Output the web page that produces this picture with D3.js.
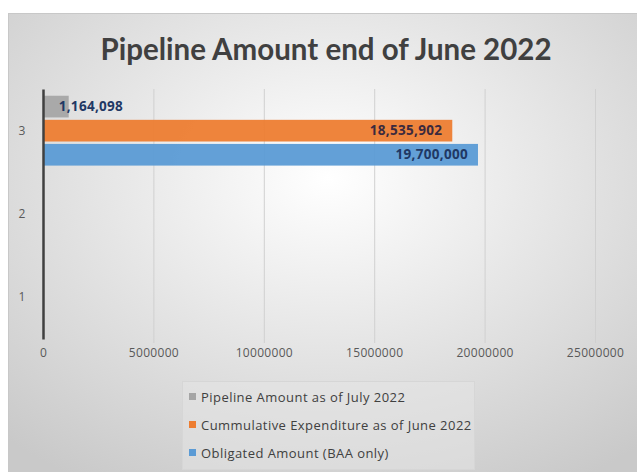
<!DOCTYPE html>
<html><head><meta charset="utf-8">
<script src="https://cdn.jsdelivr.net/npm/d3@7"></script>
<style>body{margin:0;background:#fff}svg{display:block}</style>
</head><body>
<svg id="c" width="637" height="472"></svg>
<script>
const title = "Pipeline Amount end of June 2022";
const categories = ["3", "2", "1"];
const seriesNames = ["Pipeline Amount as of July 2022", "Cummulative Expenditure as of June 2022", "Obligated Amount (BAA only)"];
const seriesColors = ["#a5a5a5", "#ed7d31", "#5b9bd5"];
const pipelineValues = [1164098, null, null];
const cumulativeValues = [18535902, null, null];
const obligatedValues = [19700000, null, null];
const xTicks = [0, 5000000, 10000000, 15000000, 20000000, 25000000];

const allSeries = [pipelineValues, cumulativeValues, obligatedValues];
const svg = d3.select("#c");
const defs = svg.append("defs");
const rg = defs.append("radialGradient").attr("id","bg").attr("cx","50%").attr("cy","35%").attr("r","75%");
rg.append("stop").attr("offset","0%").attr("stop-color","#ffffff");
rg.append("stop").attr("offset","100%").attr("stop-color","#c9c9c9");

svg.append("rect").attr("x",8.5).attr("y",13.5).attr("width",640).attr("height",470)
  .attr("fill","url(#bg)").attr("stroke","#c8c8c8");

svg.append("text").attr("x",326).attr("y",60).attr("text-anchor","middle")
  .attr("font-family","Lato, 'Open Sans', sans-serif").attr("font-weight","bold")
  .attr("font-size",29.5).attr("fill","#404040").text(title);

const x = d3.scaleLinear().domain([0, 25000000]).range([43, 595]);
const y = d3.scaleBand().domain(categories).range([89, 339]);
const inner = d3.scaleBand().domain(d3.range(3)).range([0, y.bandwidth()]).paddingOuter(0.28).paddingInner(0.1);

// gridlines
svg.append("g").selectAll("line").data(xTicks.slice(1)).join("line")
  .attr("x1", d=>x(d)+0.5).attr("x2", d=>x(d)+0.5).attr("y1", 89).attr("y2", 343)
  .attr("stroke","#d0d0d0").attr("stroke-width",1);

// x labels
const xa = svg.append("g").attr("transform","translate(0,343)")
  .call(d3.axisBottom(x).tickValues(xTicks).tickFormat(d3.format("d")).tickSize(0).tickPadding(5));
xa.select(".domain").remove();
xa.selectAll("text").attr("font-family","'Open Sans', sans-serif").attr("font-size",12)
  .attr("letter-spacing","0.3").attr("fill","#595959");

// bars
allSeries.forEach((vals, si) => {
  const g = svg.append("g");
  categories.forEach((c, ci) => {
    const v = vals[ci];
    if (v == null) return;
    const y0 = y(c) + inner(si);
    g.append("rect").attr("x", x(0)).attr("y", y0).attr("width", x(v)-x(0)).attr("height", inner.bandwidth())
      .attr("fill", seriesColors[si]).attr("opacity",0.95);
    const label = d3.format(",")(v);
    const t = g.append("text").attr("y", y0 + inner.bandwidth()/2 + 4.5)
      .attr("font-family","'Open Sans', sans-serif").attr("font-weight","bold").attr("font-size",13.5)
      .attr("fill", si===1 ? "#3b2a3e" : "#1f3864").attr("letter-spacing","0.3").text(label);
    const w = t.node().getComputedTextLength();
    if (x(v) - 10 - w < x(0) + 4) t.attr("x", x(v) - 10).attr("text-anchor","start");
    else t.attr("x", x(v) - 10).attr("text-anchor","end");
  });
});

// y axis
const ya = svg.append("g").attr("transform","translate(43,0)")
  .call(d3.axisLeft(y).tickSize(0).tickPadding(20));
ya.select(".domain").attr("stroke","#404040").attr("stroke-width",2.5);
ya.selectAll("text").attr("x",-21).attr("text-anchor","middle")
  .attr("font-family","'Open Sans', sans-serif").attr("font-size",12).attr("fill","#595959");

// legend
const lg = svg.append("g");
lg.append("rect").attr("x",182.5).attr("y",381.5).attr("width",292).attr("height",88)
  .attr("fill","#e6e6e6").attr("fill-opacity",0.5).attr("stroke","#d6d6d6");
seriesNames.forEach((n,i)=>{
  const yy = 397 + i*28;
  lg.append("rect").attr("x",189).attr("y",yy-4).attr("width",7).attr("height",7).attr("fill",seriesColors[i]);
  lg.append("text").attr("x",201).attr("y",yy+4.5).attr("font-family","'Open Sans', sans-serif")
    .attr("font-size",13).attr("fill","#404040").attr("letter-spacing","0.45").text(n);
});
</script>
</body></html>
